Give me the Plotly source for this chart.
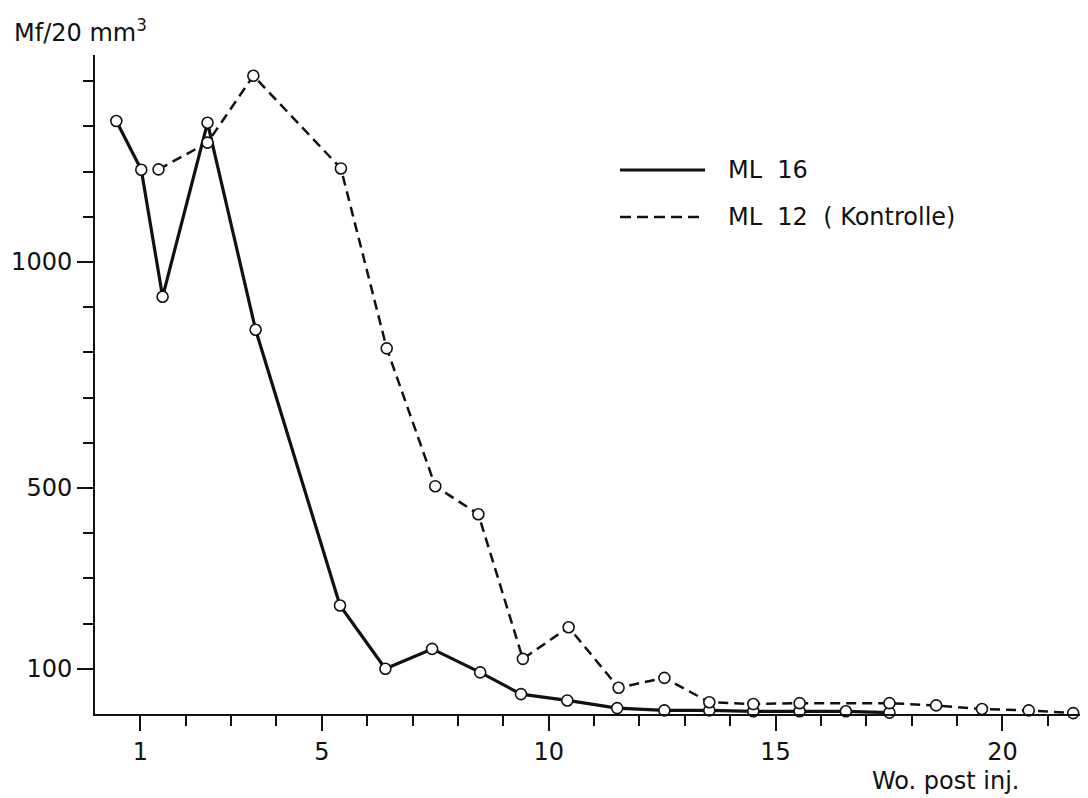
import plotly.graph_objects as go

# ML 16 (solid)
ml16_x = [0.47, 1.02, 1.49, 2.48, 3.54, 5.40, 6.40, 7.43, 8.49, 9.39, 10.41, 11.51, 12.55, 13.54, 14.51, 15.53, 16.55, 17.51]
ml16_y = [1312, 1204, 923, 1308, 850, 240, 100, 144, 92, 44, 30, 13, 8, 8, 6, 6, 6, 3]

# ML 12 (Kontrolle, dashed)
ml12_x = [1.40, 2.48, 3.49, 5.42, 6.43, 7.50, 8.45, 9.43, 10.44, 11.54, 12.55, 13.54, 14.51, 15.53, 17.51, 18.54, 19.55, 20.58, 21.56]
ml12_y = [1205, 1264, 1412, 1207, 809, 504, 442, 122, 192, 58, 80, 26, 22, 24, 24, 19, 11, 8, 2]

x_major = [1, 5, 10, 15, 20]
x_minor = [v for v in range(2, 22) if v not in x_major]
y_major = [100, 500, 1000]
y_minor = [v for v in range(200, 1500, 100) if v not in y_major]

FONT = "DejaVu Sans"
BLACK = "#111111"
FS = 24

fig = go.Figure()
fig.add_trace(go.Scatter(x=ml12_x, y=ml12_y, mode="lines",
                         line=dict(color=BLACK, width=2.5, dash="10px,6px"),
                         showlegend=False, cliponaxis=False))
fig.add_trace(go.Scatter(x=ml16_x, y=ml16_y, mode="lines",
                         line=dict(color=BLACK, width=3.2),
                         showlegend=False, cliponaxis=False))
for xs, ys in ((ml16_x, ml16_y), (ml12_x, ml12_y)):
    fig.add_trace(go.Scatter(x=xs, y=ys, mode="markers",
                             marker=dict(symbol="circle", size=11, color="white",
                                         line=dict(color=BLACK, width=1.6)),
                             showlegend=False, cliponaxis=False))

# page has an 8px body margin; figure is sized so it ends at the window edge
OFF = 8
W, H = 1080, 790
L, R, T, B = 87, 0, 47, 84
pw, ph = W - L - R, H - T - B

def px(xs):
    return (xs - OFF - L) / pw

def py(ys):
    return (H - B - (ys - OFF)) / ph

# legend drawn as shapes + text
fig.add_shape(type="line", xref="paper", yref="paper",
              x0=px(620), x1=px(705), y0=py(170), y1=py(170),
              line=dict(color=BLACK, width=3.2))
fig.add_shape(type="line", xref="paper", yref="paper",
              x0=px(620), x1=px(705), y0=py(217), y1=py(217),
              line=dict(color=BLACK, width=2.5, dash="11px,6px"))
fig.add_annotation(xref="paper", yref="paper", x=px(726), y=py(170),
                   xanchor="left", yanchor="middle", showarrow=False,
                   text="ML  16", font=dict(family=FONT, size=FS, color=BLACK))
fig.add_annotation(xref="paper", yref="paper", x=px(726), y=py(217),
                   xanchor="left", yanchor="middle", showarrow=False,
                   text="ML  12  ( Kontrolle)", font=dict(family=FONT, size=FS, color=BLACK))

# axis titles
fig.add_annotation(xref="paper", yref="paper", x=px(12), y=py(31),
                   xanchor="left", yanchor="middle", showarrow=False,
                   text="Mf/20 mm<sup>3</sup>", font=dict(family=FONT, size=FS, color=BLACK))
fig.add_annotation(xref="paper", yref="paper", x=px(870), y=py(781),
                   xanchor="left", yanchor="middle", showarrow=False,
                   text="Wo. post inj.", font=dict(family=FONT, size=FS, color=BLACK))

fig.update_layout(
    width=W, height=H,
    margin=dict(l=L, r=R, t=T, b=B, pad=0),
    paper_bgcolor="white", plot_bgcolor="white",
    font=dict(family=FONT, size=FS, color=BLACK),
    showlegend=False,
    xaxis=dict(range=[0, pw / 45.37], showgrid=False, zeroline=False,
               showline=True, linecolor=BLACK, linewidth=2,
               tickmode="array", tickvals=x_major, ticktext=[str(v) for v in x_major],
               ticks="outside", ticklen=15, tickwidth=2, tickcolor=BLACK,
               ticklabelstandoff=0,
               minor=dict(tickmode="array", tickvals=x_minor, ticks="outside",
                          ticklen=10, tickwidth=2, tickcolor=BLACK)),
    yaxis=dict(range=[0, ph / 0.452], showgrid=False, zeroline=False,
               showline=True, linecolor=BLACK, linewidth=2,
               tickmode="array", tickvals=y_major, ticktext=[str(v) for v in y_major],
               ticks="outside", ticklen=16, tickwidth=2, tickcolor=BLACK,
               ticklabelstandoff=0,
               minor=dict(tickmode="array", tickvals=y_minor, ticks="outside",
                          ticklen=10, tickwidth=2, tickcolor=BLACK)),
)

fig.write_html("out.html")
